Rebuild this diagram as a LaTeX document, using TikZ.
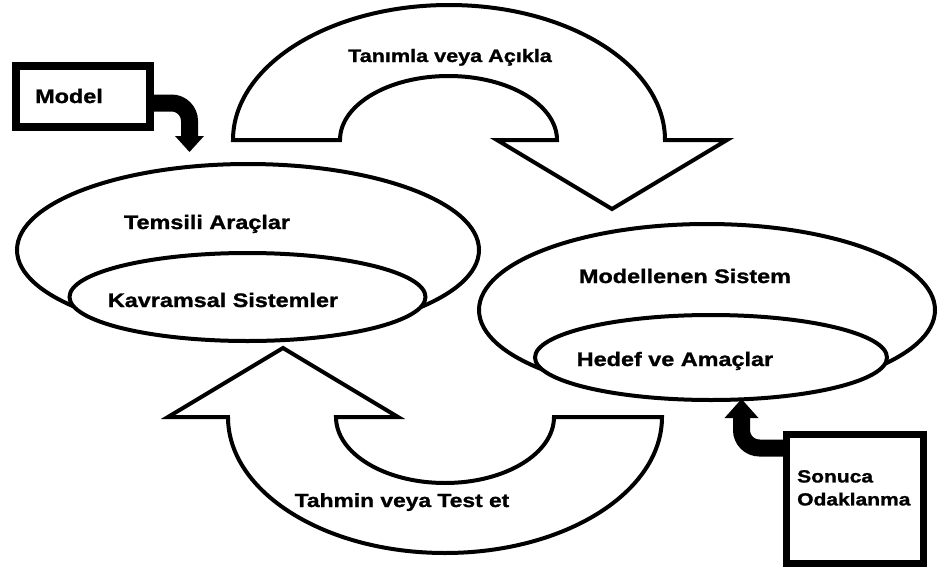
\documentclass[tikz,border=0pt]{standalone}
\usepackage{fontspec}
\usetikzlibrary{shapes.geometric,arrows.meta,calc}
\newfontfamily\labelfont{Liberation Sans}[FakeStretch=1.2,BoldFeatures={FakeBold=1.3}]

\begin{document}
\begin{tikzpicture}[x=1pt,y=-1pt,
  outline/.style={draw=black,line width=4pt,fill=white},
  loop/.style={outline,line join=miter},
  ring/.style={ellipse,outline,inner sep=0pt,outer sep=0pt},
  frame/.style={draw=black,fill=white,inner sep=0pt,outer sep=0pt},
  fatarrow/.style={draw=black,line width=17pt,rounded corners=18pt},
  lbl/.style={font=\labelfont\bfseries\fontsize{19.5}{23}\selectfont,inner sep=0pt,anchor=base},
]
% canvas
\fill[white] (0,0) rectangle (938,568);
\useasboundingbox (0,0) rectangle (938,568);

% the two systems
\node[ring,minimum width=462pt,minimum height=172pt] (tools) at (248,250) {};
\node[ring,minimum width=356pt,minimum height=88pt] (concepts) at (247.5,297) {};
\node[ring,minimum width=456pt,minimum height=172pt] (system) at (707,310) {};
\node[ring,minimum width=352pt,minimum height=85pt] (goals) at (711,357.5) {};

% upper curved arrow (tools -> system)
\draw[loop] (233,140)
  arc[start angle=180,end angle=360,x radius=216,y radius=135]
  -- (727,140) -- (612,209) -- (497,140) -- (557,140)
  arc[start angle=0,end angle=-180,x radius=108.5,y radius=64]
  -- cycle;

% lower curved arrow (system -> tools)
\draw[loop] (228,417) -- (168,417) -- (283,348) -- (398,417) -- (336,417)
  arc[start angle=180,end angle=0,x radius=109,y radius=66]
  -- (662,417)
  arc[start angle=0,end angle=180,x radius=217,y radius=136]
  -- cycle;

% side boxes
\node[frame,line width=8pt,minimum width=134pt,minimum height=61pt] (modelbox) at (83,96.5) {};
\node[frame,line width=7pt,minimum width=137pt,minimum height=129pt] (sonucabox) at (855,499) {};

% heavy feeder arrows
\coordinate (modeltip) at (189.5,152);
\coordinate (sonucatip) at (741.5,399);
\draw[fatarrow,-{Triangle[width=29pt,length=16pt,line width=0pt]}]
  ($(modelbox.east)+(0,6.5)$) -| (modeltip);
\draw[fatarrow,-{Triangle[width=34pt,length=19pt,line width=0pt]}]
  ($(sonucabox.west)+(0,-51)$) -| (sonucatip);

% labels
\node[lbl,font=\labelfont\bfseries\fontsize{18}{22}\selectfont] (describe) at (450,62) {Tanımla veya Açıkla};
\node[lbl,font=\labelfont\bfseries\fontsize{19}{22}\selectfont] (predict) at (402,507) {Tahmin veya Test et};
\node[lbl] (toolslabel) at (207,229) {Temsili Araçlar};
\node[lbl] (conceptslabel) at (223,307) {Kavramsal Sistemler};
\node[lbl] (systemlabel) at (685,283) {Modellenen Sistem};
\node[lbl] (goalslabel) at (675,366) {Hedef ve Amaçlar};
\node[lbl,anchor=base west] (model) at (35,103) {Model};
\node[lbl,anchor=north west,align=left,font=\labelfont\bfseries\fontsize{17.5}{23}\selectfont] (sonuca) at (797,470) {Sonuca\\Odaklanma};
\end{tikzpicture}
\end{document}
